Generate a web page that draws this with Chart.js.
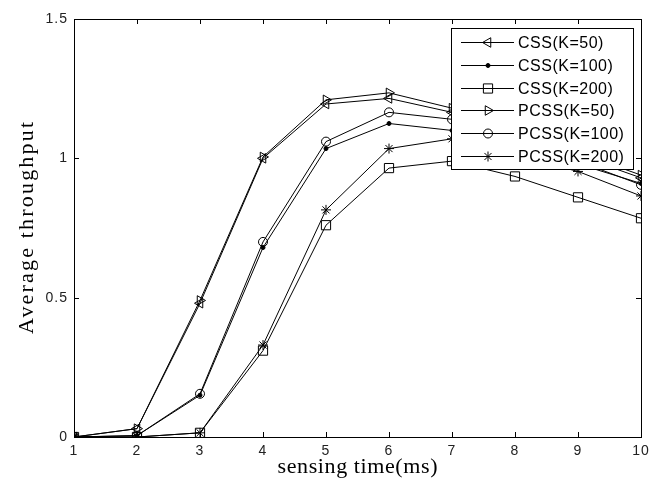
<!DOCTYPE html>
<html>
<head>
<meta charset="utf-8">
<script src="https://cdn.jsdelivr.net/npm/chart.js@4/dist/chart.umd.min.js"></script>
<style>
  html, body { margin: 0; padding: 0; background: #fff; }
  #wrap { width: 657px; height: 486px; }
</style>
</head>
<body>
<div id="wrap"><canvas id="myChart" width="657" height="486"></canvas></div>
<script>
// sensing time (ms)
var xs = [1, 2, 3, 4, 5, 6, 7, 8, 9, 10];
var yTicks = [0, 0.5, 1, 1.5];
var yTickLabels = ['0', '0.5', '1', '1.5'];

var css50   = [0, 0.03, 0.48, 1.0, 1.195, 1.215, 1.165, 1.10, 1.01, 0.93];
var css100  = [0, 0.005, 0.15, 0.68, 1.035, 1.125, 1.10, 1.05, 0.98, 0.91];
var css200  = [0, 0, 0.015, 0.31, 0.76, 0.965, 0.99, 0.935, 0.86, 0.785];
var pcss50  = [0, 0.03, 0.49, 1.005, 1.21, 1.235, 1.18, 1.12, 1.02, 0.94];
var pcss100 = [0, 0.005, 0.155, 0.70, 1.06, 1.165, 1.14, 1.08, 0.99, 0.905];
var pcss200 = [0, 0, 0.015, 0.33, 0.815, 1.035, 1.07, 1.01, 0.953, 0.865];

var labels = ['CSS(K=50)', 'CSS(K=100)', 'CSS(K=200)', 'PCSS(K=50)', 'PCSS(K=100)', 'PCSS(K=200)'];
var xTitle = 'sensing time(ms)';
var yTitle = 'Average throughput';

// marker look per series (style, radius, rotation, fill)
var marks = [
  { style: 'triangle', r: 5.5, rot: -90, fill: 'transparent' },
  { style: 'circle',   r: 2,   rot: 0,   fill: '#000' },
  { style: 'rect',     r: 6.5, rot: 0,   fill: 'transparent' },
  { style: 'triangle', r: 5.5, rot: 90,  fill: 'transparent' },
  { style: 'circle',   r: 4.5, rot: 0,   fill: 'transparent' },
  { style: 'star',     r: 5,   rot: 0,   fill: 'transparent' }
];

function pts(ys) {
  return xs.map(function (x, i) { return { x: x, y: ys[i] }; });
}

var series = [css50, css100, css200, pcss50, pcss100, pcss200];
var datasets = series.map(function (ys, i) {
  var m = marks[i];
  return {
    label: labels[i],
    data: pts(ys),
    borderColor: '#000',
    borderWidth: 1,
    pointStyle: m.style,
    pointRadius: m.r,
    pointRotation: m.rot,
    pointBackgroundColor: m.fill,
    pointBorderColor: '#000',
    pointBorderWidth: 1,
    tension: 0,
    fill: false
  };
});

// draw a marker for the legend (same shapes as chart.js)
function marker(ctx, m, x, y) {
  ctx.save();
  ctx.strokeStyle = '#000';
  ctx.fillStyle = m.fill;
  ctx.lineWidth = 1;
  ctx.beginPath();
  var r = m.r;
  if (m.style === 'triangle') {
    var a = m.rot * Math.PI / 180;
    ctx.moveTo(x + Math.sin(a) * r, y - Math.cos(a) * r);
    a += 2 * Math.PI / 3;
    ctx.lineTo(x + Math.sin(a) * r, y - Math.cos(a) * r);
    a += 2 * Math.PI / 3;
    ctx.lineTo(x + Math.sin(a) * r, y - Math.cos(a) * r);
    ctx.closePath();
  } else if (m.style === 'circle') {
    ctx.arc(x, y, r, 0, Math.PI * 2);
    ctx.closePath();
  } else if (m.style === 'rect') {
    var s = Math.SQRT1_2 * r;
    ctx.rect(x - s, y - s, 2 * s, 2 * s);
  } else if (m.style === 'star') {
    ctx.moveTo(x, y - r); ctx.lineTo(x, y + r);
    ctx.moveTo(x - r, y); ctx.lineTo(x + r, y);
    var d = Math.SQRT1_2 * r;
    ctx.moveTo(x - d, y - d); ctx.lineTo(x + d, y + d);
    ctx.moveTo(x - d, y + d); ctx.lineTo(x + d, y - d);
  }
  ctx.fill();
  ctx.stroke();
  ctx.restore();
}

// spread a title so it covers about the same length as in the picture
function spacedText(ctx, t, x, y, target) {
  ctx.letterSpacing = '0px';
  var w = ctx.measureText(t).width;
  var sp = Math.max(0, (target - w) / (t.length - 1));
  ctx.letterSpacing = sp + 'px';
  ctx.textAlign = 'left';
  ctx.textBaseline = 'middle';
  ctx.fillText(t, x - target / 2, y);
}

// box frame, inward ticks on all sides, titles and matlab-like legend
var matlabFrame = {
  id: 'matlabFrame',
  beforeDraw: function (chart) {
    chart.ctx.letterSpacing = '1px';
  },
  afterDatasetsDraw: function (chart) {
    var ctx = chart.ctx, a = chart.chartArea;
    var sx = chart.scales.x, sy = chart.scales.y;
    ctx.save();
    ctx.strokeStyle = '#000';
    ctx.lineWidth = 1;
    ctx.strokeRect(Math.round(a.left) + 0.5, Math.round(a.top) + 0.5,
      Math.round(a.right - a.left), Math.round(a.bottom - a.top));
    ctx.beginPath();
    var tl = 5;
    xs.forEach(function (v) {
      var px = Math.round(sx.getPixelForValue(v)) + 0.5;
      ctx.moveTo(px, a.bottom); ctx.lineTo(px, a.bottom - tl);
      ctx.moveTo(px, a.top); ctx.lineTo(px, a.top + tl);
    });
    yTicks.forEach(function (v) {
      var py = Math.round(sy.getPixelForValue(v)) + 0.5;
      ctx.moveTo(a.left, py); ctx.lineTo(a.left + tl, py);
      ctx.moveTo(a.right, py); ctx.lineTo(a.right - tl, py);
    });
    ctx.stroke();

    // axis titles
    ctx.fillStyle = '#000';
    ctx.font = '22px "Liberation Serif", "Times New Roman", serif';
    spacedText(ctx, xTitle, (a.left + a.right) / 2, 467, 160);
    ctx.save();
    ctx.translate(27, (a.top + a.bottom) / 2);
    ctx.rotate(-Math.PI / 2);
    spacedText(ctx, yTitle, 0, 0, 212);
    ctx.restore();

    // legend box
    var bx = 451, by = 28, bw = 182, bh = 141, rowH = 22.8;
    ctx.fillStyle = '#fff';
    ctx.fillRect(bx, by, bw, bh);
    ctx.strokeRect(bx + 0.5, by + 0.5, bw, bh);
    ctx.font = '16px "Liberation Sans", Arial, sans-serif';
    ctx.letterSpacing = '0.5px';
    ctx.textAlign = 'left';
    ctx.textBaseline = 'middle';
    labels.forEach(function (t, i) {
      var y = Math.round(by + 14 + i * rowH) + 0.5;
      ctx.beginPath();
      ctx.moveTo(461, y); ctx.lineTo(514, y);
      ctx.stroke();
      marker(ctx, marks[i], 488, y);
      ctx.fillStyle = '#000';
      ctx.fillText(t, 518, y + 1);
    });
    ctx.restore();
  }
};

var ctx = document.getElementById('myChart').getContext('2d');
var myChart = new Chart(ctx, {
  type: 'line',
  data: { datasets: datasets },
  options: {
    responsive: false,
    animation: false,
    layout: { padding: { left: 0, top: 19, right: 16, bottom: 0 } },
    plugins: { legend: { display: false }, tooltip: { enabled: false } },
    scales: {
      x: {
        type: 'linear', min: 1, max: 10,
        afterFit: function (s) { s.height = 49; },
        grid: { display: false, drawTicks: false },
        border: { display: false },
        ticks: {
          stepSize: 1, padding: 6, color: '#222',
          font: { family: 'Liberation Sans', size: 14 }
        }
      },
      y: {
        type: 'linear', min: 0, max: 1.5,
        afterFit: function (s) { s.width = 74; },
        afterBuildTicks: function (s) { s.ticks = yTicks.map(function (v) { return { value: v }; }); },
        grid: { display: false, drawTicks: false },
        border: { display: false },
        ticks: {
          padding: 6, color: '#222',
          font: { family: 'Liberation Sans', size: 14 },
          callback: function (v) { return yTickLabels[yTicks.indexOf(v)]; }
        }
      }
    }
  },
  plugins: [matlabFrame]
});
</script>
</body>
</html>
